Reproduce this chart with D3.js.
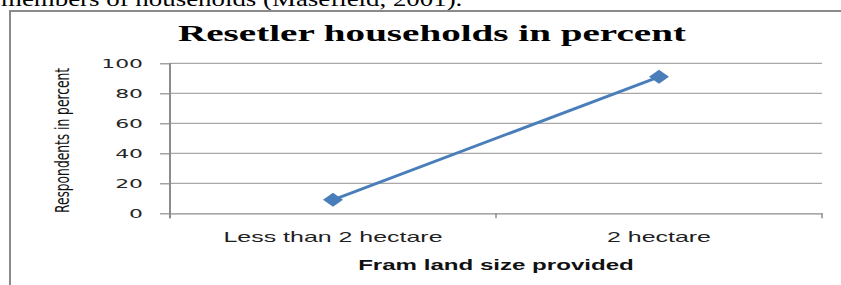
<!DOCTYPE html>
<html>
<head>
<meta charset="utf-8">
<script src="https://cdn.jsdelivr.net/npm/d3@7"></script>
<style>
  body { margin: 0; background: #fff; }
  svg { display: block; }
</style>
</head>
<body>
<svg id="chart" width="841" height="285"></svg>
<script>
  var categories = ["Less than 2 hectare", "2 hectare"];
  var values = [9, 91];
  var yTicks = [0, 20, 40, 60, 80, 100];
  var chartTitle = "Resetler households in percent";
  var xTitle = "Fram land size provided";
  var yTitle = "Respondents in percent";
  var textAbove = "members of households (Masefield, 2001).";

  var svg = d3.select("#chart");

  // stretch text sideways, the source picture is wider than tall
  function stretch(sel, k) {
    sel.each(function () {
      var w = this.getComputedTextLength();
      d3.select(this).attr("textLength", w * k).attr("lengthAdjust", "spacingAndGlyphs");
    });
  }

  // text of the page above the chart, cut off at the top
  svg.append("text")
    .attr("x", 1).attr("y", 6)
    .style("font-family", "Liberation Serif, Times New Roman, serif")
    .style("font-size", "21px")
    .text(textAbove)
    .call(stretch, 1.28);

  // chart frame
  svg.append("rect")
    .attr("x", 10).attr("y", 11)
    .attr("width", 860).attr("height", 300)
    .style("fill", "none")
    .style("stroke", "#8a8a8a")
    .style("stroke-width", 2);

  var x = d3.scaleBand().domain(categories).range([170, 822]);
  var y = d3.scaleLinear().domain([0, 100]).range([213.3, 63.3]);

  // gridlines
  svg.append("g")
    .selectAll("line")
    .data(yTicks.filter(function (d) { return d > 0; }))
    .enter()
    .append("line")
    .attr("x1", 170).attr("x2", 822)
    .attr("y1", function (d) { return y(d); })
    .attr("y2", function (d) { return y(d); })
    .style("stroke", "#a8a8a8")
    .style("stroke-width", 1.2);

  // y axis
  var yAxis = svg.append("g")
    .attr("transform", "translate(170,0)")
    .call(d3.axisLeft(y).tickValues(yTicks).tickSize(10).tickPadding(17).tickFormat(d3.format("d")));
  yAxis.select(".domain").attr("d", "M0," + y(100) + "V" + (y(0) + 5)).style("stroke", "#8c8c8c").style("stroke-width", 2);
  yAxis.selectAll(".tick line").style("stroke", "#8c8c8c").style("stroke-width", 1.2);
  yAxis.selectAll(".tick text")
    .style("font-family", "DejaVu Sans, sans-serif")
    .style("font-size", "12.5px")
    .style("fill", "#262626")
    .attr("dy", "0.36em")
    .call(stretch, 1.75);

  // x axis
  var xAxis = svg.append("g")
    .attr("transform", "translate(0," + y(0) + ")")
    .call(d3.axisBottom(x).tickSize(0).tickPadding(29));
  xAxis.select(".domain").style("stroke", "#8c8c8c").style("stroke-width", 1.2);
  xAxis.selectAll(".tick line").remove();
  xAxis.selectAll(".tick text")
    .attr("dy", 0)
    .style("font-family", "Liberation Sans, Arial, sans-serif")
    .style("font-size", "14.5px")
    .style("fill", "#1f1f1f")
    .call(stretch, 1.72);

  // category boundary ticks
  svg.append("g")
    .selectAll("line")
    .data(categories.concat(["end"]))
    .enter()
    .append("line")
    .attr("x1", function (d, i) { return i < categories.length ? x(d) : x.range()[1]; })
    .attr("x2", function (d, i) { return i < categories.length ? x(d) : x.range()[1]; })
    .attr("y1", y(0)).attr("y2", y(0) + 5)
    .style("stroke", "#8c8c8c")
    .style("stroke-width", 1.5);

  // series line
  var line = d3.line()
    .x(function (d, i) { return x(categories[i]) + x.bandwidth() / 2; })
    .y(function (d) { return y(d); });

  svg.append("path")
    .datum(values)
    .attr("d", line)
    .style("fill", "none")
    .style("stroke", "#4a7ebb")
    .style("stroke-width", 3);

  svg.append("g")
    .selectAll("path")
    .data(values)
    .enter()
    .append("path")
    .attr("d", "M-10,0L0,-7L10,0L0,7Z")
    .attr("transform", function (d, i) {
      return "translate(" + (x(categories[i]) + x.bandwidth() / 2) + "," + y(d) + ")";
    })
    .style("fill", "#4a7ebb");

  // titles
  svg.append("text")
    .attr("x", 432).attr("y", 41)
    .style("text-anchor", "middle")
    .style("font-family", "Liberation Serif, Times New Roman, serif")
    .style("font-weight", "bold")
    .style("font-size", "23px")
    .text(chartTitle)
    .call(stretch, 1.7);

  svg.append("text")
    .attr("x", (x.range()[0] + x.range()[1]) / 2).attr("y", 270)
    .style("text-anchor", "middle")
    .style("font-family", "Liberation Sans, Arial, sans-serif")
    .style("font-weight", "bold")
    .style("font-size", "14px")
    .style("fill", "#111")
    .text(xTitle)
    .call(stretch, 1.72);

  svg.append("text")
    .attr("transform", "translate(69,140.5) scale(1.4,1) rotate(-90)")
    .style("text-anchor", "middle")
    .style("font-family", "Liberation Sans Narrow, DejaVu Sans Condensed, sans-serif")
    .style("font-size", "14px")
    .style("fill", "#111")
    .attr("textLength", 145)
    .attr("lengthAdjust", "spacingAndGlyphs")
    .text(yTitle);
</script>
</body>
</html>
